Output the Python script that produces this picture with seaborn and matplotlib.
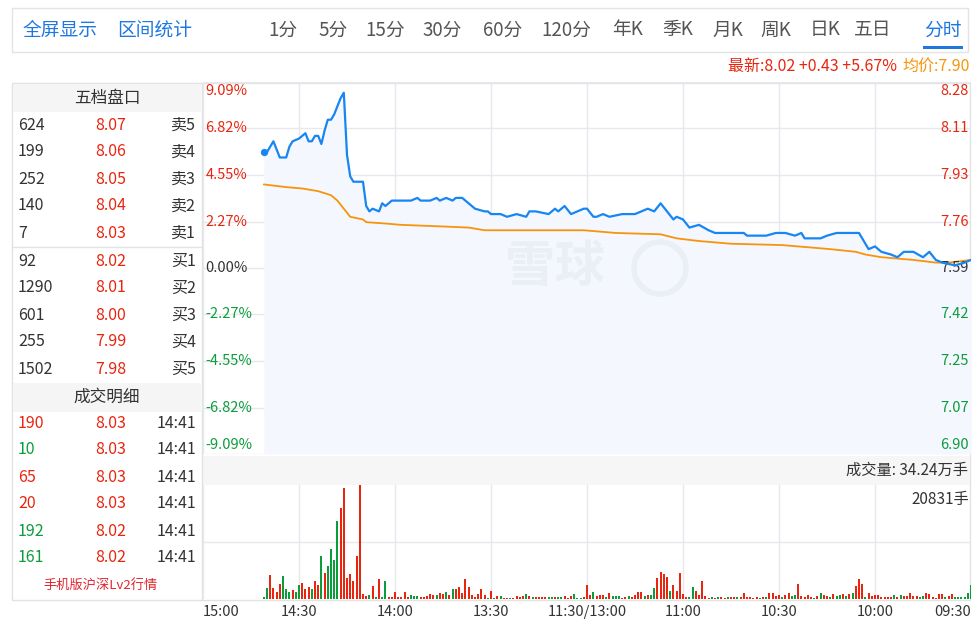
import numpy as np
import pandas as pd
import matplotlib
matplotlib.use("Agg")
import matplotlib.pyplot as plt
from matplotlib.patches import Rectangle, Circle
from matplotlib.transforms import blended_transform_factory
import seaborn as sns

# ---------------- data ----------------
prev_close = 7.59
limit_pct = 9.09
pct_levels = [9.09, 6.82, 4.55, 2.27, 0.00, -2.27, -4.55, -6.82, -9.09]
price_levels = ["8.28", "8.11", "7.93", "7.76", "7.59", "7.42", "7.25", "7.07", "6.90"]

time_ticks = [0, 30, 60, 90, 120, 150, 180, 210, 240]
time_labels = ["09:30", "10:00", "10:30", "11:00", "11:30/13:00", "13:30", "14:00", "14:30", "15:00"]

# minute index since 09:30 (trading minutes) and last price
price_min = [0, 2, 5, 9, 11, 13, 15, 18, 21, 23,
             25, 28, 30, 32, 33, 35, 36, 38, 42, 45,
             47, 50, 52, 53, 55, 58, 61, 64, 70, 71,
             76, 80, 82, 85, 88, 90, 92, 93, 95, 97,
             99, 101, 105, 109, 113, 115, 117, 118, 120, 121,
             125, 127, 129, 130, 132, 136, 138, 139, 142, 145,
             147, 150, 151, 152, 155, 157, 159, 161, 162, 164,
             166, 167, 169, 172, 173, 175, 178, 181, 183, 184,
             185, 187, 188, 189, 190, 193, 194, 195, 196, 197,
             199, 200, 201, 202, 203, 204, 205, 206, 207, 208,
             210, 212, 213, 214, 216, 218, 220, 221]
price_val = [7.62, 7.61, 7.60, 7.61, 7.62, 7.65, 7.63, 7.65, 7.65, 7.63,
             7.64, 7.65, 7.67, 7.66, 7.68, 7.72, 7.72, 7.72, 7.72, 7.71,
             7.70, 7.70, 7.70, 7.72, 7.71, 7.72, 7.72, 7.71, 7.71, 7.72,
             7.72, 7.72, 7.73, 7.75, 7.74, 7.77, 7.78, 7.77, 7.80, 7.83,
             7.80, 7.81, 7.79, 7.79, 7.78, 7.79, 7.78, 7.78, 7.81, 7.81,
             7.79, 7.82, 7.80, 7.81, 7.79, 7.80, 7.80, 7.78, 7.79, 7.78,
             7.79, 7.79, 7.80, 7.80, 7.81, 7.83, 7.85, 7.85, 7.84, 7.85,
             7.84, 7.85, 7.84, 7.84, 7.85, 7.84, 7.84, 7.84, 7.82, 7.83,
             7.80, 7.81, 7.80, 7.82, 7.91, 7.91, 7.93, 8.01, 8.24, 8.22,
             8.16, 8.14, 8.14, 8.10, 8.05, 8.08, 8.08, 8.06, 8.06, 8.09,
             8.07, 8.06, 8.04, 8.00, 8.00, 8.06, 8.02, 8.02]

avg_min = [0, 7, 11, 18, 28, 33, 36, 44, 59, 75,
           85, 92, 97, 111, 121, 129, 152, 157, 167, 178,
           183, 189, 190, 194, 196, 198, 200, 204, 209, 214, 221]
avg_val = [7.62, 7.61, 7.61, 7.62, 7.63, 7.64, 7.65, 7.66, 7.675, 7.68,
           7.69, 7.70, 7.715, 7.72, 7.73, 7.73, 7.73, 7.74, 7.745, 7.75,
           7.755, 7.76, 7.77, 7.78, 7.81, 7.84, 7.86, 7.875, 7.885, 7.89, 7.90]

# per-minute volume (手), chronological from 09:30; r = up, g = down
volume = [
    2630, 1160, 430, 430, 430, 310, 980, 610, 310, 980, 980, 180, 310, 980, 1160, 610, 310, 610, 610, 1160,
    610, 610, 800, 310, 800, 430, 430, 430, 430, 800, 800, 610, 1160, 430, 2760, 3610, 2390, 1160, 980, 610,
    980, 740, 610, 980, 430, 610, 740, 1160, 610, 180, 430, 740, 310,
    490, 2760, 670, 490, 1100, 800, 310, 800, 610, 1100, 1100, 310, 430, 180, 430, 180, 310, 310, 1100, 310,
    310, 310, 310, 310, 180, 430, 310, 180, 430, 180, 610, 3370, 740, 1530, 2270, 430, 310, 920, 4840, 1530,
    2570, 1530, 4040, 4600, 5020, 3920, 2080, 740, 740, 610, 1290, 1290, 740, 310,
    490, 310, 180, 610, 610, 610, 1160, 310, 670, 800, 490, 1230, 670, 2630, 310, 180, 180, 860, 490, 240,
    610, 310, 310, 310, 310, 310, 310, 310, 310, 310, 310, 490, 860, 490, 370, 490, 240, 240, 240, 240,
    490, 490, 180, 1530, 240, 670, 1900, 980, 310, 800, 2140, 3610, 1160, 2140,
    1840, 1900, 740, 1350, 920, 1040, 740, 740, 980, 610, 430, 430, 610, 610, 740, 310, 1350, 430, 310, 1290,
    310, 310, 3370, 430, 3610, 310, 2390, 740, 610, 920, 20831, 7780, 3370, 4600, 3920, 20220, 16540, 14210, 7050, 9190,
    5940, 4840, 7780, 2570, 3370, 1840, 2270, 1900, 3000, 2570, 1350, 1650, 1350, 1840, 4230, 2760, 1350, 2080, 4410, 2080,
    430]
direction = list(
    "ggggggrrgrrrrrrggrrrrrgrgrrrrrrrrgrrrgrgrggrgrrgrgrrr"
    "rrggrrgrrrrgrgrrrrrrgrrgrrgrgrrrrrggrrrrrgrrrrggrgrrrr"
    "grrgggrgrrrgrrrgggrrrggrggrrrrgrgrrrrgrrgrgrgrrrrrrrrr"
    "rgrgrrgrrrrrgggrrrrrrrggrgrgrrrrrrrrrggggrgrrgrrrggrgggrrrrgg")
vol_max = 20831

tabs = ["分时", "五日", "日K", "周K", "月K", "季K", "年K", "120分", "60分", "30分", "15分", "5分", "1分"]
tools = ["区间统计", "全屏显示"]

ask_labels = ["卖5", "卖4", "卖3", "卖2", "卖1"]
ask_prices = ["8.07", "8.06", "8.05", "8.04", "8.03"]
ask_vols = [624, 199, 252, 140, 7]
bid_labels = ["买1", "买2", "买3", "买4", "买5"]
bid_prices = ["8.02", "8.01", "8.00", "7.99", "7.98"]
bid_vols = [92, 1290, 601, 255, 1502]

trade_times = ["14:41", "14:41", "14:41", "14:41", "14:41", "14:41"]
trade_prices = ["8.03", "8.03", "8.03", "8.03", "8.02", "8.02"]
trade_vols = [190, 10, 65, 20, 192, 161]
trade_dirs = ["r", "g", "r", "r", "g", "g"]

# ---------------- style ----------------
RED = "#e8260f"
GREEN = "#0b9c3c"
BLUE = "#1786f2"
ORANGE = "#f7940c"
TABBLUE = "#1f78e0"
GRID = "#e6e8ef"
TXT = "#333333"
dir_colors = {"r": RED, "g": GREEN}

sns.set_theme(style="white")
plt.rcParams['font.family'] = ['Noto Sans CJK SC', 'DejaVu Sans']

W, H = 975, 633
fig = plt.figure(figsize=(W / 100, H / 100), dpi=100)
fig.patch.set_facecolor("white")

bg = fig.add_axes([0, 0, 1, 1], zorder=0)
bg.set_xlim(0, W)
bg.set_ylim(H, 0)
bg.axis("off")

# top tab bar
bg.add_patch(Rectangle((12, 8), 956, 44, fc="white", ec="#e4e4e4", lw=1))
tab_x = [943, 873, 825, 776, 728, 678, 628, 566, 503, 442, 385, 333, 283]
for t, x in zip(tabs, tab_x):
    bg.text(x, 30, t, ha="center", va="center", fontsize=13.5,
            color=TABBLUE if t == "分时" else "#555555")
bg.add_patch(Rectangle((923, 46), 40, 3, fc=TABBLUE, ec="none"))
for t, x in zip(tools, [155, 60]):
    bg.text(x, 30, t, ha="center", va="center", fontsize=13.5, color=TABBLUE)

# info line
bg.text(970, 66, "均价:7.90", ha="right", va="center", fontsize=11.5, color=ORANGE)
bg.text(897, 66, "最新:8.02 +0.43 +5.67%", ha="right", va="center", fontsize=11.5, color=RED)

# outer frame
bg.add_patch(Rectangle((12, 83), 958, 517, fc="none", ec="#e2e2e2", lw=1))
bg.plot([202, 202], [83, 600], color="#e2e2e2", lw=1)

# order book
bg.add_patch(Rectangle((13, 84), 188, 28, fc="#f5f5f5", ec="none"))
bg.text(107, 98, "五档盘口", ha="center", va="center", fontsize=12, color=TXT)
ask_y = [125, 152, 179, 206, 233]
bid_y = [261, 288, 315, 342, 369]
for lab, p, v, y in zip(ask_labels, ask_prices, ask_vols, ask_y):
    bg.text(196, y, lab, ha="right", va="center", fontsize=11.5, color=TXT)
    bg.text(111, y, p, ha="center", va="center", fontsize=11.5, color=RED)
    bg.text(18, y, str(v), ha="left", va="center", fontsize=11.5, color=TXT)
bg.plot([12, 202], [247, 247], color="#e2e2e2", lw=1)
for lab, p, v, y in zip(bid_labels, bid_prices, bid_vols, bid_y):
    bg.text(196, y, lab, ha="right", va="center", fontsize=11.5, color=TXT)
    bg.text(111, y, p, ha="center", va="center", fontsize=11.5, color=RED)
    bg.text(18, y, str(v), ha="left", va="center", fontsize=11.5, color=TXT)

bg.add_patch(Rectangle((13, 383), 188, 29, fc="#f5f5f5", ec="none"))
bg.text(107, 397, "成交明细", ha="center", va="center", fontsize=12, color=TXT)
trade_y = [423, 450, 477, 504, 531, 557]
for t, p, v, d, y in zip(trade_times, trade_prices, trade_vols, trade_dirs, trade_y):
    bg.text(196, y, t, ha="right", va="center", fontsize=11.5, color=TXT)
    bg.text(111, y, p, ha="center", va="center", fontsize=11.5, color=RED)
    bg.text(18, y, str(v), ha="left", va="center", fontsize=11.5, color=dir_colors[d])
bg.text(100, 585, "手机版沪深Lv2行情", ha="center", va="center", fontsize=9.5, color="#e0262e")

# volume header band
bg.add_patch(Rectangle((203, 456), 767, 29, fc="#f6f6f6", ec="none"))
bg.text(968, 470, "成交量: 34.24万手", ha="right", va="center", fontsize=11, color=TXT)

# ---------------- price panel ----------------
lo = prev_close * (1 - limit_pct / 100)
hi = prev_close * (1 + limit_pct / 100)

ax = fig.add_axes([203 / W, 1 - 454 / H, 768 / W, 372 / H], zorder=2)
ax.set_facecolor("none")
ax.fill_between(price_min, price_val, lo, color="#f4f7fd", lw=0, zorder=1)

# watermark
ax.text(555, 268, "雪球", transform=bg.transData, ha="center", va="center",
        fontsize=36, color="#eaeef5", fontweight="bold", zorder=1.5)
ax.add_artist(Circle((660, 268), 26, transform=bg.transData, fill=False,
                     ec="#eaeef5", lw=4, zorder=1.5))

price_df = pd.DataFrame({"minute": price_min, "price": price_val})
avg_df = pd.DataFrame({"minute": avg_min, "avg": avg_val})
sns.lineplot(data=avg_df, x="minute", y="avg", ax=ax, color=ORANGE, lw=1.3, zorder=3)
sns.lineplot(data=price_df, x="minute", y="price", ax=ax, color=BLUE, lw=1.6, zorder=4)
ax.scatter([price_min[-1]], [price_val[-1]], s=28, color=BLUE, zorder=5, lw=0)

ax.set_xlim(240, 0)
ax.set_ylim(lo, hi)
yt = [prev_close * (1 + p / 100) for p in pct_levels]
ax.set_yticks(yt)
ax.set_xticks(time_ticks)
ax.grid(True, color=GRID, lw=1)
ax.tick_params(left=False, bottom=False, labelleft=False, labelbottom=False)
ax.set_xlabel("")
ax.set_ylabel("")
for s in ax.spines.values():
    s.set_visible(False)

tr = blended_transform_factory(ax.transAxes, ax.transData)
n = len(pct_levels)
for i, (p, pl, y) in enumerate(zip(pct_levels, price_levels, yt)):
    col = RED if p > 0 else (GREEN if p < 0 else TXT)
    va = "top" if i == 0 else ("bottom" if i == n - 1 else "center")
    off = -0.006 if i == 0 else (0.006 if i == n - 1 else 0)
    yy = y + off
    ax.text(0.003, yy, f"{p:.2f}%", transform=tr, ha="left", va=va, fontsize=10.5, color=col)
    ax.text(0.997, yy, pl, transform=tr, ha="right", va=va, fontsize=10.5, color=col)

# ---------------- volume panel ----------------
axv = fig.add_axes([203 / W, 1 - 599 / H, 768 / W, 114 / H], zorder=2)
axv.set_facecolor("none")
vol_df = pd.DataFrame({"minute": np.arange(len(volume)), "volume": volume, "dir": direction})
sns.barplot(data=vol_df, x="minute", y="volume", hue="dir", palette=dir_colors,
            native_scale=True, dodge=False, width=0.6, legend=False, saturation=1,
            errorbar=None, linewidth=0, ax=axv)
axv.set_xlim(240, 0)
axv.set_ylim(0, vol_max)
axv.set_yticks([vol_max / 2])
axv.set_xticks(time_ticks)
axv.grid(True, color=GRID, lw=1)
axv.set_axisbelow(True)
axv.tick_params(left=False, bottom=False, labelleft=False, labelbottom=False)
axv.set_xlabel("")
axv.set_ylabel("")
for s in axv.spines.values():
    s.set_visible(False)
axv.text(0.997, 0.87, f"{vol_max}手", transform=axv.transAxes, ha="right", va="center",
         fontsize=11, color=TXT)

trv = blended_transform_factory(axv.transData, axv.transAxes)
for i, (t, lab) in enumerate(zip(time_ticks, time_labels)):
    ha = "right" if i == 0 else ("left" if i == len(time_ticks) - 1 else "center")
    axv.text(t, -0.11, lab, transform=trv, ha=ha, va="center", fontsize=10.5, color=TXT)

fig.savefig("out.png", dpi=100, facecolor="white")
